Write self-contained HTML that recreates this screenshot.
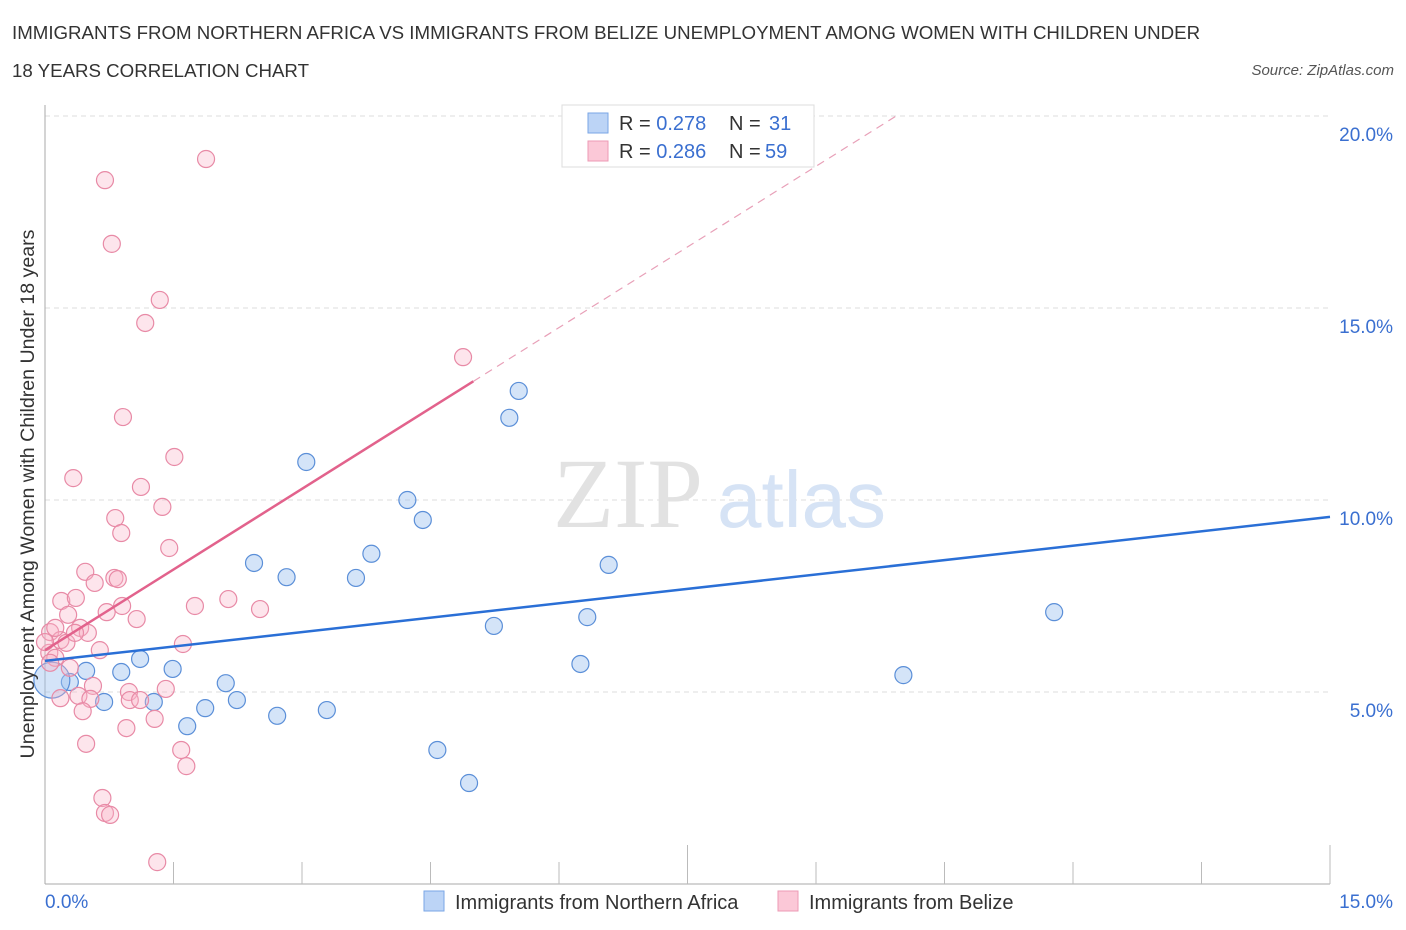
<!DOCTYPE html>
<html><head><meta charset="utf-8"><style>
body{margin:0;background:#fff;font-family:"Liberation Sans",sans-serif;}
#wrap{position:relative;width:1406px;height:930px;overflow:hidden}
.t{position:absolute;color:#333;font-size:17px}
</style></head><body>
<div id="wrap">
<div class="t" style="left:12px;top:22px;font-size:18.7px">IMMIGRANTS FROM NORTHERN AFRICA VS IMMIGRANTS FROM BELIZE UNEMPLOYMENT AMONG WOMEN WITH CHILDREN UNDER</div>
<div class="t" style="left:12px;top:60px;font-size:18.7px">18 YEARS CORRELATION CHART</div>
<div class="t" style="right:12px;top:62px;font-size:15px;font-style:italic;color:#555">Source: ZipAtlas.com</div>
<svg id="svg" width="1406" height="930" style="position:absolute;left:0;top:0"></svg>
</div>
<script>
// values in percent
const blueXs=[3.05,5.53,5.42,4.23,4.41,3.81,2.44,2.82,3.63,6.58,11.78,6.33,5.24,6.25,10.02,1.11,1.49,0.89,0.48,0.29,0.69,1.27,2.11,1.87,2.24,1.66,2.71,3.29,4.58,4.95,0.08];
const blueYs=[10.99,12.84,12.14,10.0,9.48,8.6,8.36,7.99,7.97,8.31,7.08,6.95,6.72,5.73,5.44,5.86,5.6,5.52,5.55,5.26,4.74,4.74,5.23,4.58,4.79,4.11,4.38,4.53,3.49,2.63,5.31];
const pinkXs=[1.88,0.70,0.78,1.34,1.17,4.88,0.91,1.51,0.33,1.12,1.37,0.82,0.89,1.45,0.47,0.81,0.85,0.58,0.19,0.36,2.14,1.75,2.51,0.90,0.72,1.07,0.27,0.06,0.18,0.41,0.50,0.25,0.64,1.61,0.05,0.12,0.06,0.29,0.56,0.98,0.99,1.11,1.41,0.39,0.53,0.18,0.44,1.28,0.95,0.48,1.59,1.65,0.67,0.70,0.76,1.31,0.0,0.12,0.35];
const pinkYs=[18.88,18.33,16.67,15.21,14.61,13.72,12.16,11.12,10.57,10.34,9.82,9.53,9.14,8.75,8.13,7.97,7.94,7.84,7.37,7.45,7.42,7.24,7.16,7.24,7.08,6.9,7.01,6.56,6.35,6.67,6.54,6.28,6.09,6.25,6.02,5.89,5.76,5.63,5.16,5.0,4.79,4.79,5.08,4.9,4.82,4.84,4.5,4.3,4.06,3.65,3.49,3.07,2.24,1.85,1.8,0.57,6.3,6.67,6.54];
const xTicks=[0,15];const yTicks=[5,10,15,20];
const blueLine=[5.81,0.25];const pinkLine=[6.09,1.40];
const svg=document.getElementById('svg');const NS='http://www.w3.org/2000/svg';
const X=v=>45+v/15*1285, Y=v=>884-v*38.4;
function mk(t,a,p){const e=document.createElementNS(NS,t);for(const k in a)e.setAttribute(k,a[k]);(p||svg).appendChild(e);return e;}
yTicks.forEach(v=>{const l=mk('line',{x1:45,x2:1330,y1:Y(v),y2:Y(v),stroke:'#ddd','stroke-dasharray':'5,4'});


const t=mk('text',{x:1393,y:Y(v)+25,'text-anchor':'end','font-size':19,fill:'#3a6fd0','font-family':'Liberation Sans'});t.textContent=v.toFixed(1)+'%';

});
mk('line',{x1:45,x2:45,y1:105,y2:884,stroke:'#aaa'});
mk('line',{x1:45,x2:1330,y1:884,y2:884,stroke:'#aaa'});
for(let i=1;i<=10;i++){const x=45+i*128.5;mk('line',{x1:x,x2:x,y1:i%5==0?845:862,y2:884,stroke:'#bbb'});}
xTicks.forEach((v,i)=>{const t=mk('text',{x:i?1393:45,y:908,'text-anchor':i?'end':'start','font-size':19,fill:'#3a6fd0','font-family':'Liberation Sans'});t.textContent=v.toFixed(1)+'%';

});
const w1=mk('text',{x:553,y:527,'font-size':100,fill:'#e2e2e2','font-family':'Liberation Serif'});w1.textContent='ZIP';
const w2=mk('text',{x:717,y:527,'font-size':80,fill:'#d6e3f5','font-family':'Liberation Sans'});w2.textContent='atlas';
blueXs.forEach((x,i)=>{const c=mk('circle',{cx:X(x),cy:Y(blueYs[i]),r:i==30?18:8.5,fill:'rgba(160,196,240,0.45)',stroke:'#5b8fd8','stroke-width':1.2});

});
pinkXs.forEach((x,i)=>{const c=mk('circle',{cx:X(x),cy:Y(pinkYs[i]),r:8.5,fill:'rgba(248,180,200,0.35)',stroke:'#e88aa6','stroke-width':1.2});

});
let l=mk('line',{x1:X(0),y1:Y(blueLine[0]),x2:X(15),y2:Y(blueLine[0]+15*blueLine[1]),stroke:'#2a6fd6','stroke-width':2.5});


const xe=(20-pinkLine[0])/pinkLine[1];
l=mk('line',{x1:X(5),y1:Y(pinkLine[0]+5*pinkLine[1]),x2:X(xe),y2:Y(20),stroke:'#e8a0b8','stroke-width':1.2,'stroke-dasharray':'8,6'});


l=mk('line',{x1:X(0),y1:Y(pinkLine[0]),x2:X(5),y2:Y(pinkLine[0]+5*pinkLine[1]),stroke:'#e2628c','stroke-width':2.5});


mk('rect',{x:562,y:105,width:252,height:62,fill:'#fff',stroke:'#ddd'});
[['#bcd4f6','#7aa6e6','0.278','31',123],['#fbc8d7','#ec9ab4','0.286','59',151]].forEach(r=>{
const s=mk('rect',{x:588,y:r[4]-10,width:20,height:20,fill:r[0],stroke:r[1]});


const t=mk('text',{x:619,y:r[4]+7,'font-size':20,fill:'#333','font-family':'Liberation Sans'});
t.innerHTML='R = <tspan fill="#3a6fd0">'+r[2]+'</tspan><tspan x="729">N = </tspan><tspan fill="#3a6fd0" x="'+(r[3]=='31'?769:765)+'">'+r[3]+'</tspan>';

});
[['#bcd4f6','#7aa6e6',424,'Immigrants from Northern Africa'],['#fbc8d7','#ec9ab4',778,'Immigrants from Belize']].forEach(r=>{
const s=mk('rect',{x:r[2],y:891,width:20,height:20,fill:r[0],stroke:r[1]});


const t=mk('text',{x:r[2]+31,y:909,'font-size':20,fill:'#333','font-family':'Liberation Sans'});t.textContent=r[3];

});
const yt=mk('text',{transform:'translate(34,494) rotate(-90)','text-anchor':'middle','font-size':19.6,fill:'#333','font-family':'Liberation Sans'});
yt.textContent='Unemployment Among Women with Children Under 18 years';


</script>
</body></html>
